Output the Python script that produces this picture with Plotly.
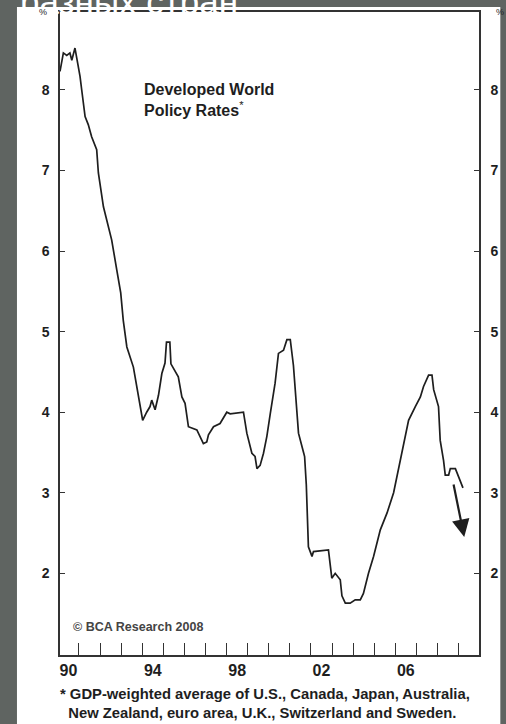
import plotly.graph_objects as go

# ---- data (decimal years, GDP-weighted policy rate, %) ----
years = [1990.10, 1990.26, 1990.42, 1990.57, 1990.66, 1990.81, 1990.94, 1991.05, 1991.13, 1991.29,
         1991.44, 1991.60, 1991.84, 1991.92, 1992.16, 1992.39, 1992.55, 1992.79, 1992.98, 1993.10,
         1993.27, 1993.58, 1993.74, 1993.90, 1994.02, 1994.21, 1994.37, 1994.45, 1994.61, 1994.77,
         1994.93, 1995.08, 1995.15, 1995.31, 1995.36, 1995.71, 1995.88, 1996.03, 1996.19, 1996.59,
         1996.74, 1996.90, 1997.06, 1997.14, 1997.38, 1997.69, 1998.01, 1998.17, 1998.80, 1998.96,
         1999.20, 1999.35, 1999.44, 1999.59, 1999.75, 1999.91, 2000.07, 2000.30, 2000.46, 2000.70,
         2000.86, 2001.02, 2001.17, 2001.41, 2001.65, 2001.70, 2001.78, 2001.82, 2001.88, 2002.05,
         2002.12, 2002.83, 2002.91, 2002.99, 2003.15, 2003.39, 2003.47, 2003.63, 2003.86, 2004.10,
         2004.34, 2004.49, 2004.73, 2004.97, 2005.29, 2005.61, 2005.92, 2006.08, 2006.32, 2006.63,
         2006.95, 2007.19, 2007.34, 2007.58, 2007.74, 2007.82, 2008.05, 2008.13, 2008.29, 2008.37,
         2008.53, 2008.61, 2008.85, 2009.00, 2009.21]
rates = [8.23, 8.46, 8.43, 8.46, 8.37, 8.52, 8.33, 8.17, 8.00, 7.67,
         7.57, 7.42, 7.26, 6.97, 6.55, 6.30, 6.14, 5.77, 5.48, 5.14,
         4.81, 4.56, 4.32, 4.03, 3.90, 4.00, 4.07, 4.15, 4.03, 4.21,
         4.48, 4.61, 4.87, 4.87, 4.60, 4.44, 4.19, 4.11, 3.82, 3.78,
         3.70, 3.61, 3.63, 3.72, 3.82, 3.86, 4.00, 3.98, 4.00, 3.74,
         3.49, 3.45, 3.30, 3.34, 3.49, 3.70, 3.98, 4.36, 4.73, 4.77,
         4.90, 4.90, 4.58, 3.74, 3.50, 3.45, 3.10, 2.70, 2.33, 2.21,
         2.27, 2.29, 2.08, 1.94, 2.00, 1.92, 1.72, 1.63, 1.63, 1.67,
         1.67, 1.75, 2.00, 2.21, 2.54, 2.75, 3.00, 3.20, 3.49, 3.90,
         4.07, 4.19, 4.32, 4.46, 4.46, 4.28, 4.07, 3.65, 3.40, 3.22,
         3.22, 3.30, 3.30, 3.20, 3.06]

x_label_pos = [1990.5, 1994.5, 1998.5, 2002.5, 2006.5]
x_label_text = ["90", "94", "98", "02", "06"]
year_ticks = list(range(1991, 2010))
y_ticks = [2, 3, 4, 5, 6, 7, 8]

# arrow (forecast direction)
arrow_from = (2008.75, 3.12)
arrow_to = (2009.27, 2.45)

FONT = "Liberation Sans Narrow, Arial Narrow, Liberation Sans, Arial, sans-serif"
INK = "#1e1e1e"
BG = "#5f6461"

fig = go.Figure()
fig.add_trace(go.Scatter(x=years, y=rates, mode="lines",
                         line=dict(color=INK, width=1.7), hoverinfo="skip",
                         showlegend=False))
# same series on the right-hand axis (invisible) so that axis shows its labels
fig.add_trace(go.Scatter(x=years, y=rates, mode="lines", yaxis="y2", opacity=0,
                         line=dict(color=INK, width=1), hoverinfo="skip",
                         showlegend=False))

fig.update_layout(
    width=506, height=724,
    margin=dict(l=60, r=27, t=12, b=69, autoexpand=False),
    paper_bgcolor=BG,
    plot_bgcolor="white",
    font=dict(family=FONT, color=INK),
    xaxis=dict(range=[1990.1, 2009.97], tickmode="array", tickvals=x_label_pos,
               ticktext=x_label_text, ticks="", showgrid=False, zeroline=False,
               showline=True, linecolor="#333", linewidth=1.5, mirror=True,
               automargin=False,
               tickfont=dict(size=16, family=FONT, color=INK, weight="bold"),
               minor=dict(tickmode="array", tickvals=year_ticks, ticks="inside",
                          ticklen=12, tickwidth=1.3, tickcolor="#333", showgrid=False)),
    yaxis=dict(range=[0.986, 8.968], tickmode="array", tickvals=y_ticks,
               ticks="inside", ticklen=5, tickwidth=1.2, tickcolor="#333",
               showgrid=False, zeroline=False, showline=True, linecolor="#333",
               linewidth=1.5, ticklabelstandoff=6, automargin=False,
               tickfont=dict(size=14, family=FONT, color=INK, weight="bold")),
    yaxis2=dict(range=[0.986, 8.968], tickmode="array", tickvals=y_ticks,
                overlaying="y", side="right", ticks="inside", ticklen=5,
                tickwidth=1.2, tickcolor="#333", showgrid=False, zeroline=False,
                showline=True, linecolor="#333", linewidth=1.5, ticklabelstandoff=7,
                automargin=False,
                tickfont=dict(size=14, family=FONT, color=INK, weight="bold")),
)

# white panel behind the chart
fig.add_shape(type="rect", xref="paper", yref="paper",
              x0=-0.1027, x1=1.0509, y0=-0.1073, y1=1.0078,
              fillcolor="white", line=dict(width=0), layer="below")

# cut-off page title
fig.add_annotation(text="разных стран", xref="paper", yref="paper",
                   x=-0.1003, y=1.0156, xanchor="left", yanchor="middle",
                   showarrow=False,
                   font=dict(size=35, color="white", family="Liberation Sans, Arial, sans-serif"))

fig.add_annotation(text="<b>Developed World<br>Policy Rates</b><sup>*</sup>",
                   xref="x", yref="y", x=1994.0, y=7.87, xanchor="left", yanchor="middle",
                   align="left", showarrow=False,
                   font=dict(size=16, family=FONT, color=INK))

fig.add_annotation(text="<b>© BCA Research 2008</b>", xref="x", yref="y",
                   x=1990.6, y=1.33, xanchor="left", yanchor="middle", showarrow=False,
                   font=dict(size=12.5, family=FONT, color="#444"))

fig.add_annotation(text="<b>* GDP-weighted average of U.S., Canada, Japan, Australia,<br>"
                        "  New Zealand, euro area, U.K., Switzerland and Sweden.</b>",
                   xref="paper", yref="paper", x=-0.004, y=-0.0754, xanchor="left",
                   yanchor="middle", align="left", showarrow=False,
                   font=dict(size=14.8, family=FONT, color=INK))

fig.add_annotation(text="%", xref="paper", yref="paper", x=-0.04, y=1.0, xanchor="center",
                   yanchor="middle", showarrow=False, font=dict(size=9, color=INK))
fig.add_annotation(text="%", xref="paper", yref="paper", x=1.05, y=1.0, xanchor="center",
                   yanchor="middle", showarrow=False, font=dict(size=9, color=INK))

fig.add_annotation(x=arrow_to[0], y=arrow_to[1], ax=arrow_from[0], ay=arrow_from[1],
                   xref="x", yref="y", axref="x", ayref="y", text="", showarrow=True,
                   arrowhead=2, arrowsize=1.6, arrowwidth=2.2, arrowcolor=INK)

fig.write_html("out.html", config={"displayModeBar": False},
               post_script="document.body.style.margin='0';"
                           "document.body.style.background='%s';" % BG)
